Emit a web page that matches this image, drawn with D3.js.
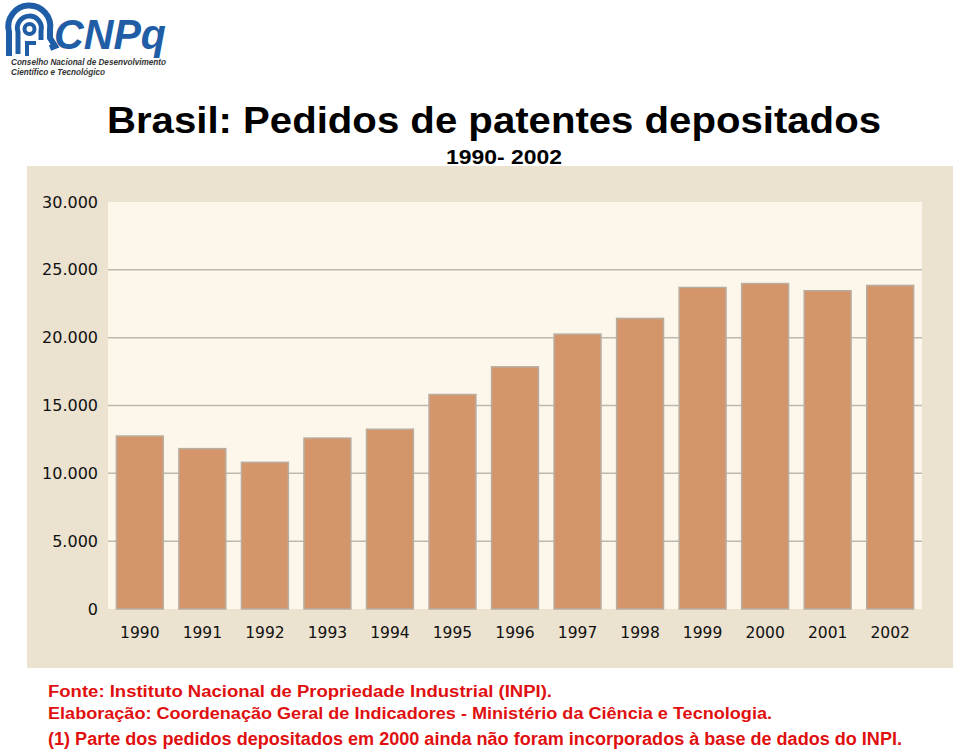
<!DOCTYPE html>
<html><head><meta charset="utf-8">
<script src="https://cdn.jsdelivr.net/npm/d3@7"></script>
<style>body{margin:0;background:#fff}svg{display:block}</style>
</head><body>
<script>
const years = ["1990","1991","1992","1993","1994","1995","1996","1997","1998","1999","2000","2001","2002"];
const pedidos = [12750, 11820, 10810, 12600, 13250, 15810, 17850, 20260, 21420, 23700, 23990, 23460, 23850];
const yTicks = [0, 5000, 10000, 15000, 20000, 25000, 30000];
const titleText = "Brasil: Pedidos de patentes depositados";
const subtitleText = "1990- 2002";
const notes = [
  "Fonte: Instituto Nacional de Propriedade Industrial (INPI).",
  "Elaboração: Coordenação Geral de Indicadores - Ministério da Ciência e Tecnologia.",
  "(1) Parte dos pedidos depositados em 2000 ainda não foram incorporados à base de dados do INPI."
];

const W = 960, H = 749;
const svg = d3.select("body").append("svg").attr("width", W).attr("height", H);

// Logo
const logo = svg.append("g").attr("fill", "#1f5ea6");
const icon = logo.append("g").attr("fill", "none").attr("stroke", "#1f5ea6").attr("stroke-linecap", "butt");
icon.append("path").attr("d", "M9,56 L9,32 A21,21 0 1 1 50,30 L50,38 L55,46 L50,48").attr("stroke-width", 6);
icon.append("path").attr("d", "M18,54 L18,32 A12,12 0 1 1 41,31 L41,40").attr("stroke-width", 5);
icon.append("circle").attr("cx", 29.5).attr("cy", 29).attr("r", 5).attr("stroke-width", 4);
icon.append("path").attr("d", "M27,56 L27,43 L36,43").attr("stroke-width", 4);
logo.append("text").attr("x", 54).attr("y", 49).attr("font-family", "Liberation Sans, Arial, sans-serif")
  .attr("font-weight", "bold").attr("font-style", "italic").attr("font-size", 42)
  .attr("textLength", 112).attr("lengthAdjust", "spacingAndGlyphs").text("CNPq");
logo.append("text").attr("x", 11).attr("y", 65).attr("fill", "#333").attr("font-family", "Liberation Sans, Arial, sans-serif")
  .attr("font-weight", "bold").attr("font-style", "italic").attr("font-size", 8.5)
  .attr("textLength", 155).attr("lengthAdjust", "spacingAndGlyphs").text("Conselho Nacional de Desenvolvimento");
logo.append("text").attr("x", 11).attr("y", 75).attr("fill", "#333").attr("font-family", "Liberation Sans, Arial, sans-serif")
  .attr("font-weight", "bold").attr("font-style", "italic").attr("font-size", 8.5)
  .attr("textLength", 94).attr("lengthAdjust", "spacingAndGlyphs").text("Científico e Tecnológico");

// Panel
svg.append("rect").attr("x", 27).attr("y", 166).attr("width", 926).attr("height", 502).attr("fill", "#ebe2d0");

// Title
svg.append("text").attr("x", 107).attr("y", 133).attr("fill", "#000")
  .attr("font-family", "Liberation Sans, Arial, sans-serif").attr("font-weight", "bold").attr("font-size", 36)
  .attr("textLength", 774).attr("lengthAdjust", "spacingAndGlyphs").text(titleText);
svg.append("text").attr("x", 446).attr("y", 164).attr("fill", "#000")
  .attr("font-family", "Liberation Sans, Arial, sans-serif").attr("font-weight", "bold").attr("font-size", 20)
  .attr("textLength", 116).attr("lengthAdjust", "spacingAndGlyphs").text(subtitleText);

const plot = {left: 108, right: 922, top: 202, bottom: 609};
svg.append("rect").attr("x", plot.left).attr("y", plot.top).attr("width", plot.right - plot.left)
  .attr("height", plot.bottom - plot.top).attr("fill", "#fdf6ea");

const x = d3.scaleBand().domain(years).range([plot.left, plot.right]).paddingInner(0.25).paddingOuter(0.134);
const y = d3.scaleLinear().domain([0, 30000]).range([plot.bottom, plot.top]);

const loc = d3.formatLocale({decimal: ",", thousands: ".", grouping: [3], currency: ["", ""]});
const fmt = loc.format(",");

// gridlines
svg.append("g").selectAll("line").data(yTicks.filter(d => d > 0 && d < 30000)).join("line")
  .attr("x1", plot.left).attr("x2", plot.right).attr("y1", d => y(d)).attr("y2", d => y(d))
  .attr("stroke", "#bdb8ae").attr("stroke-width", 1.5);

// bars
svg.append("g").selectAll("rect").data(years).join("rect")
  .attr("x", d => x(d)).attr("width", x.bandwidth())
  .attr("y", (d, i) => y(pedidos[i])).attr("height", (d, i) => y(0) - y(pedidos[i]))
  .attr("fill", "#d4956b").attr("stroke", "#b9ada0").attr("stroke-width", 1.5);

// axes
const yAxis = svg.append("g").attr("transform", `translate(${plot.left},0)`)
  .call(d3.axisLeft(y).tickValues(yTicks).tickFormat(fmt).tickSize(0).tickPadding(10));
yAxis.select(".domain").remove();
yAxis.selectAll("text").attr("font-family", "DejaVu Sans, Verdana, sans-serif").attr("font-size", 16).attr("fill", "#111");

const xAxis = svg.append("g").attr("transform", `translate(0,${plot.bottom})`)
  .call(d3.axisBottom(x).tickSize(0).tickPadding(18));
xAxis.select(".domain").remove();
xAxis.selectAll("text").attr("font-family", "DejaVu Sans, Verdana, sans-serif").attr("font-size", 15.5).attr("fill", "#111");

// notes
const noteY = [697, 719, 745];
const noteW = [504, 724, 854];
const noteSize = [16, 16, 17.5];
notes.forEach((t, i) => {
  svg.append("text").attr("x", 48).attr("y", noteY[i]).attr("fill", "#e01010")
    .attr("font-family", "Liberation Sans, Arial, sans-serif").attr("font-weight", "bold").attr("font-size", noteSize[i])
    .attr("textLength", noteW[i]).attr("lengthAdjust", "spacingAndGlyphs").text(t);
});
</script>
</body></html>
